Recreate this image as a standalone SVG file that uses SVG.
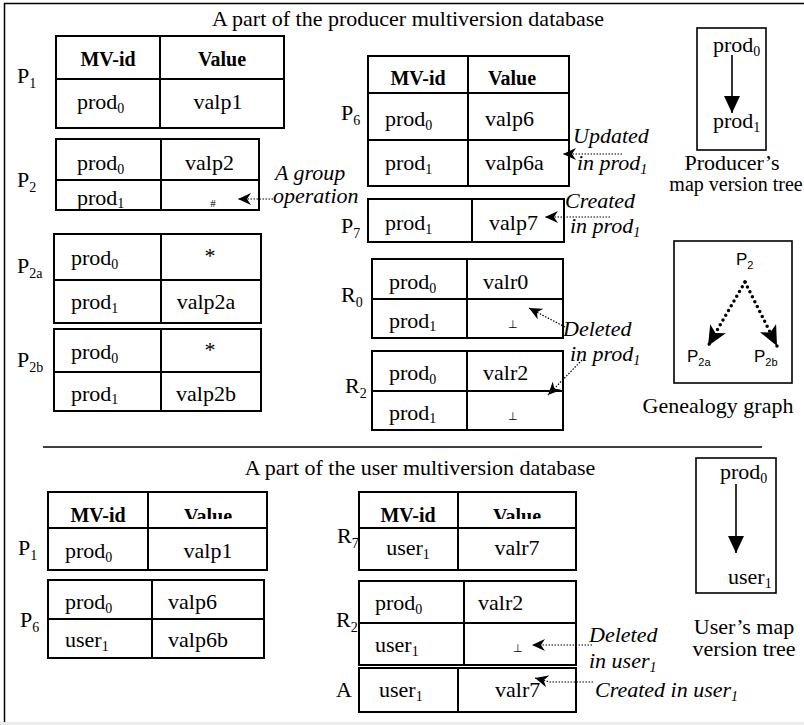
<svg xmlns="http://www.w3.org/2000/svg" width="804" height="725" viewBox="0 0 804 725">
<style>
.t{font-family:"Liberation Serif","Times New Roman",serif;font-size:22px;fill:#000}
.h{font-weight:bold;font-size:20px}
.i{font-style:italic}
.m{text-anchor:middle}
.sans{font-family:"Liberation Sans",Arial,sans-serif;font-size:17px}
.sub{font-size:14px}
.ssub{font-size:11px}
.tiny{font-size:11px}
.cell{fill:none;stroke:#000;stroke-width:2}
.frame{fill:none;stroke:#000;stroke-width:1.5}
.dot{fill:none;stroke:#000;stroke-width:1.2;stroke-dasharray:1.5 1.5}
.gdot{fill:none;stroke:#000;stroke-width:3.5;stroke-dasharray:0 5.5;stroke-linecap:round}
.solid{fill:none;stroke:#000;stroke-width:1.6}
.box{fill:none;stroke:#000;stroke-width:1.6}
</style>
<defs>
<marker id="ah" markerUnits="userSpaceOnUse" markerWidth="14" markerHeight="12" refX="13" refY="6" orient="auto">
<path d="M0,0 L13,6 L0,12 L4,6 z" fill="#000"/>
</marker>
<marker id="big" markerUnits="userSpaceOnUse" markerWidth="18" markerHeight="18" refX="17" refY="8" orient="auto">
<path d="M0,0 L17,8 L0,16 z" fill="#000"/>
</marker>
<marker id="gen" markerUnits="userSpaceOnUse" markerWidth="22" markerHeight="20" refX="20" refY="9" orient="auto">
<path d="M0,0 L20,9 L0,18 L5,9 z" fill="#000"/>
</marker>
<clipPath id="hc1"><rect x="148" y="492" width="119" height="27"/></clipPath>
<clipPath id="hc2"><rect x="458" y="492" width="118" height="27"/></clipPath>
</defs>

<rect x="0" y="0" width="804" height="725" fill="#fff"/>
<rect x="0" y="722" width="804" height="3" fill="#ebebeb"/>
<path class="frame" d="M4.5,722 V3.5 H804"/>

<text class="t m" x="408" y="26">A part of the producer multiversion database</text>
<line x1="43" y1="447" x2="762" y2="447" stroke="#000" stroke-width="1.6"/>
<text class="t m" x="420" y="475">A part of the user multiversion database</text>

<!-- Producer side tables -->
<g id="P1">
<text class="t" x="17" y="83">P<tspan class="sub" dy="5">1</tspan></text>
<rect class="cell" x="56" y="36" width="228" height="92"/>
<line class="cell" x1="160" y1="36" x2="160" y2="128"/>
<line class="cell" x1="56" y1="79" x2="284" y2="79"/>
<text class="t h m" x="108" y="66">MV-id</text>
<text class="t h m" x="222" y="66">Value</text>
<text class="t" x="77" y="109">prod<tspan class="sub" dy="4">0</tspan></text>
<text class="t m" x="218" y="109">valp1</text>
</g>

<g id="P2">
<text class="t" x="17" y="187">P<tspan class="sub" dy="5">2</tspan></text>
<rect class="cell" x="56" y="139" width="203" height="71"/>
<line class="cell" x1="161" y1="139" x2="161" y2="210"/>
<line class="cell" x1="56" y1="180" x2="259" y2="180"/>
<text class="t" x="77" y="170">prod<tspan class="sub" dy="4">0</tspan></text>
<text class="t" x="185" y="170">valp2</text>
<text class="t" x="77" y="205">prod<tspan class="sub" dy="3">1</tspan></text>
<text class="t tiny m" x="213" y="207">#</text>
</g>

<g id="P2a">
<text class="t" x="17" y="273">P<tspan class="sub" dy="5">2a</tspan></text>
<rect class="cell" x="54" y="234" width="207" height="89"/>
<line class="cell" x1="161" y1="234" x2="161" y2="323"/>
<line class="cell" x1="54" y1="280" x2="261" y2="280"/>
<text class="t" x="71" y="265">prod<tspan class="sub" dy="4">0</tspan></text>
<text class="t m" x="210" y="263">*</text>
<text class="t" x="71" y="309">prod<tspan class="sub" dy="4">1</tspan></text>
<text class="t m" x="206" y="309">valp2a</text>
</g>

<g id="P2b">
<text class="t" x="17" y="367">P<tspan class="sub" dy="5">2b</tspan></text>
<rect class="cell" x="54" y="329" width="207" height="82"/>
<line class="cell" x1="161" y1="329" x2="161" y2="411"/>
<line class="cell" x1="54" y1="372" x2="261" y2="372"/>
<text class="t" x="71" y="359">prod<tspan class="sub" dy="4">0</tspan></text>
<text class="t m" x="210" y="357">*</text>
<text class="t" x="71" y="401">prod<tspan class="sub" dy="3">1</tspan></text>
<text class="t m" x="206" y="401">valp2b</text>
</g>

<g id="P6">
<text class="t" x="341" y="120">P<tspan class="sub" dy="5">6</tspan></text>
<rect class="cell" x="368" y="56" width="201" height="130"/>
<line class="cell" x1="468" y1="56" x2="468" y2="186"/>
<line class="cell" x1="368" y1="93" x2="569" y2="93"/>
<line class="cell" x1="368" y1="140" x2="569" y2="140"/>
<text class="t h m" x="418" y="85">MV-id</text>
<text class="t h m" x="512" y="85">Value</text>
<text class="t" x="385" y="126">prod<tspan class="sub" dy="4">0</tspan></text>
<text class="t" x="485" y="126">valp6</text>
<text class="t" x="385" y="170">prod<tspan class="sub" dy="4">1</tspan></text>
<text class="t" x="485" y="170">valp6a</text>
</g>

<g id="P7">
<text class="t" x="341" y="233">P<tspan class="sub" dy="5">7</tspan></text>
<rect class="cell" x="368" y="199" width="196" height="43"/>
<line class="cell" x1="472" y1="199" x2="472" y2="242"/>
<text class="t" x="385" y="230">prod<tspan class="sub" dy="4">1</tspan></text>
<text class="t" x="489" y="230">valp7</text>
</g>

<g id="R0">
<text class="t" x="341" y="302">R<tspan class="sub" dy="5">0</tspan></text>
<rect class="cell" x="372" y="259" width="191" height="79"/>
<line class="cell" x1="467" y1="259" x2="467" y2="338"/>
<line class="cell" x1="372" y1="299" x2="563" y2="299"/>
<text class="t" x="389" y="289">prod<tspan class="sub" dy="4">0</tspan></text>
<text class="t" x="483" y="289">valr0</text>
<text class="t" x="389" y="328">prod<tspan class="sub" dy="3">1</tspan></text>
<text class="t tiny m" x="513" y="328">⊥</text>
</g>

<g id="R2">
<text class="t" x="345" y="393">R<tspan class="sub" dy="5">2</tspan></text>
<rect class="cell" x="372" y="351" width="191" height="79"/>
<line class="cell" x1="467" y1="351" x2="467" y2="430"/>
<line class="cell" x1="372" y1="391" x2="563" y2="391"/>
<text class="t" x="389" y="380">prod<tspan class="sub" dy="4">0</tspan></text>
<text class="t" x="483" y="380">valr2</text>
<text class="t" x="389" y="420">prod<tspan class="sub" dy="3">1</tspan></text>
<text class="t tiny m" x="513" y="420">⊥</text>
</g>

<g id="producer-tree">
<rect class="box" x="697" y="28" width="69" height="122"/>
<text class="t" x="713" y="52">prod<tspan class="sub" dy="4">0</tspan></text>
<text class="t" x="713" y="128">prod<tspan class="sub" dy="4">1</tspan></text>
<text class="t m" x="732" y="170">Producer’s</text>
<text class="t m" x="736" y="191" style="font-size:20px">map version tree</text>
</g>

<g id="genealogy">
<rect class="box" x="674" y="241" width="118" height="142"/>
<text class="t sans" x="736" y="265">P<tspan class="ssub" dy="4">2</tspan></text>
<text class="t sans" x="687" y="362">P<tspan class="ssub" dy="4">2a</tspan></text>
<text class="t sans" x="754" y="362">P<tspan class="ssub" dy="4">2b</tspan></text>
<text class="t m" x="718" y="413">Genealogy graph</text>
</g>

<!-- User side tables -->
<g id="uP1">
<text class="t" x="18" y="555">P<tspan class="sub" dy="5">1</tspan></text>
<text class="t h m" x="98" y="522">MV-id</text>
<text class="t h m" x="208" y="523" clip-path="url(#hc1)">Value</text>
<rect class="cell" x="48" y="492" width="219" height="78"/>
<line class="cell" x1="148" y1="492" x2="148" y2="570"/>
<line class="cell" x1="48" y1="528" x2="267" y2="528"/>
<text class="t" x="65" y="558">prod<tspan class="sub" dy="4">0</tspan></text>
<text class="t m" x="208" y="558">valp1</text>
</g>

<g id="uP6">
<text class="t" x="20" y="627">P<tspan class="sub" dy="5">6</tspan></text>
<rect class="cell" x="48" y="580" width="216" height="78"/>
<line class="cell" x1="152" y1="580" x2="152" y2="658"/>
<line class="cell" x1="48" y1="619" x2="264" y2="619"/>
<text class="t" x="65" y="609">prod<tspan class="sub" dy="4">0</tspan></text>
<text class="t" x="168" y="609">valp6</text>
<text class="t" x="65" y="647">user<tspan class="sub" dy="4">1</tspan></text>
<text class="t" x="168" y="647">valp6b</text>
</g>

<g id="uR7">
<text class="t" x="337" y="543">R<tspan class="sub" dy="5">7</tspan></text>
<text class="t h m" x="408" y="522">MV-id</text>
<text class="t h m" x="517" y="523" clip-path="url(#hc2)">Value</text>
<rect class="cell" x="359" y="492" width="217" height="78"/>
<line class="cell" x1="458" y1="492" x2="458" y2="570"/>
<line class="cell" x1="359" y1="528" x2="576" y2="528"/>
<text class="t m" x="408" y="555">user<tspan class="sub" dy="4">1</tspan></text>
<text class="t m" x="517" y="555">valr7</text>
</g>

<g id="uR2">
<text class="t" x="336" y="627">R<tspan class="sub" dy="5">2</tspan></text>
<rect class="cell" x="359" y="581" width="217" height="84"/>
<line class="cell" x1="464" y1="581" x2="464" y2="665"/>
<line class="cell" x1="359" y1="623" x2="576" y2="623"/>
<text class="t" x="375" y="610">prod<tspan class="sub" dy="4">0</tspan></text>
<text class="t" x="478" y="610">valr2</text>
<text class="t" x="375" y="652">user<tspan class="sub" dy="4">1</tspan></text>
<text class="t tiny m" x="518" y="652">⊥</text>
</g>

<g id="uA">
<text class="t" x="336" y="697">A</text>
<rect class="cell" x="359" y="668" width="217" height="44"/>
<line class="cell" x1="458" y1="668" x2="458" y2="712"/>
<text class="t" x="379" y="697">user<tspan class="sub" dy="4">1</tspan></text>
<text class="t" x="495" y="697">valr7</text>
</g>

<g id="user-tree">
<rect class="box" x="696" y="458" width="80" height="135"/>
<text class="t" x="720" y="479">prod<tspan class="sub" dy="4">0</tspan></text>
<text class="t" x="728" y="584">user<tspan class="sub" dy="4">1</tspan></text>
<text class="t m" x="744" y="634">User’s map</text>
<text class="t m" x="744" y="656">version tree</text>
</g>

<!-- annotation labels -->
<g id="annotations">
<text class="t i" x="275" y="180">A group</text>
<text class="t i" x="273" y="203">operation</text>
<text class="t i" x="573" y="143">Updated</text>
<text class="t i" x="577" y="170">in prod<tspan class="sub" dy="4">1</tspan></text>
<text class="t i" x="565" y="208">Created</text>
<text class="t i" x="570" y="233">in prod<tspan class="sub" dy="4">1</tspan></text>
<text class="t i" x="563" y="336">Deleted</text>
<text class="t i" x="570" y="361">in prod<tspan class="sub" dy="4">1</tspan></text>
<text class="t i" x="589" y="642">Deleted</text>
<text class="t i" x="589" y="668">in user<tspan class="sub" dy="4">1</tspan></text>
<text class="t i" x="595" y="697">Created in user<tspan class="sub" dy="4">1</tspan></text>
</g>

<g id="connectors">
<line class="dot" x1="273" y1="199" x2="238" y2="199" marker-end="url(#ah)"/>
<line class="dot" x1="622" y1="154" x2="563" y2="154" marker-end="url(#ah)"/>
<line class="dot" x1="610" y1="217" x2="545" y2="217" marker-end="url(#ah)"/>
<line class="dot" x1="565" y1="327" x2="529" y2="308" marker-end="url(#ah)"/>
<line class="dot" x1="582" y1="360" x2="548" y2="395" marker-end="url(#ah)"/>
<line class="dot" x1="592" y1="645" x2="532" y2="645" marker-end="url(#ah)"/>
<path class="dot" d="M593,682 L550,682 L535,678" marker-end="url(#ah)"/>
<line class="solid" x1="732" y1="55" x2="732" y2="113" marker-end="url(#big)"/>
<line class="solid" x1="736" y1="484" x2="736" y2="553" marker-end="url(#big)"/>
<line class="gdot" x1="745" y1="282" x2="708" y2="346" marker-end="url(#gen)"/>
<line class="gdot" x1="745" y1="282" x2="777" y2="346" marker-end="url(#gen)"/>
</g>
</svg>
